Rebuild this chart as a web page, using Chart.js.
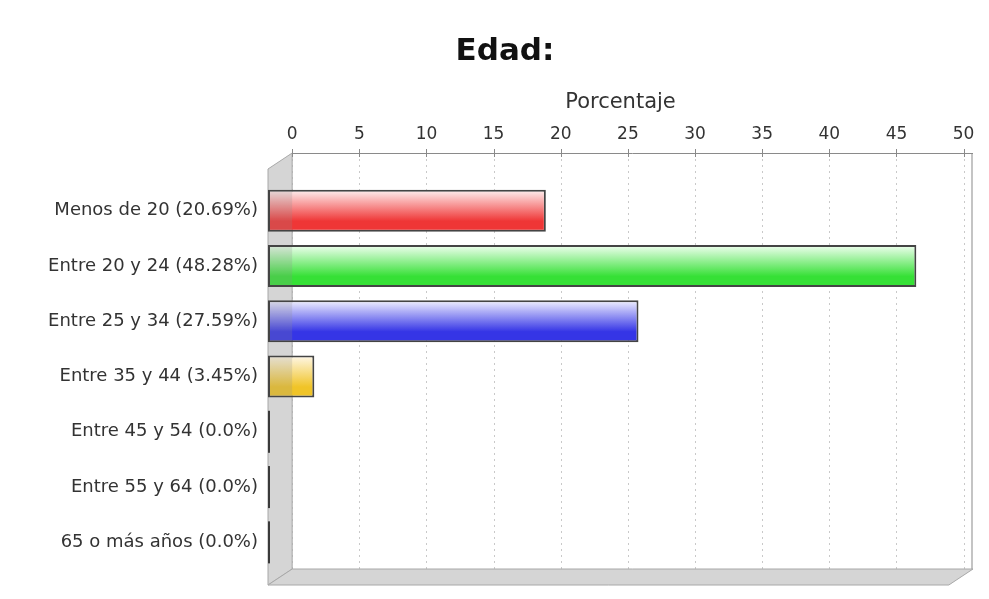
<!DOCTYPE html>
<html>
<head>
<meta charset="utf-8">
<script src="https://cdn.jsdelivr.net/npm/chart.js@4/dist/chart.umd.min.js"></script>
<style>
  html, body { margin: 0; padding: 0; background: #ffffff; }
  #wrap { width: 989px; height: 599px; position: relative; }
</style>
</head>
<body>
<div id="wrap"><canvas id="c" width="989" height="599"></canvas></div>
<script>
// ---- data ----
const CATEGORIES = [
  'Menos de 20 (20.69%)',
  'Entre 20 y 24 (48.28%)',
  'Entre 25 y 34 (27.59%)',
  'Entre 35 y 44 (3.45%)',
  'Entre 45 y 54 (0.0%)',
  'Entre 55 y 64 (0.0%)',
  '65 o más años (0.0%)'
];
const PERCENTAGES = [20.69, 48.28, 27.59, 3.45, 0.0, 0.0, 0.0];
const TICK_VALUES = [0, 5, 10, 15, 20, 25, 30, 35, 40, 45, 50];
const TITLE = 'Edad:';
const AXIS_TITLE = 'Porcentaje';

// ---- style ----
const BAR_TOP = ['#fff2f2', '#f2fff2', '#f2f2ff', '#fff8ea', '#fff2e0', '#f2ffff', '#fff2ff'];
const BAR_BOTTOM = ['#ef3636', '#36e036', '#3535e6', '#f0c428', '#f09020', '#20c0c0', '#c020c0'];
const BAR_PCT = 0.76;
const DEPTH_Y = 16;
const FONT = '"DejaVu Sans", "Liberation Sans", sans-serif';

const box3d = {
  id: 'box3d',
  beforeDatasetsDraw(chart) {
    const { ctx, chartArea: a, scales: { x, x2 } } = chart;
    const dx = x2.getPixelForValue(0) - x.getPixelForValue(0);
    const dy = DEPTH_Y;
    const backTop = a.top - 30, backBottom = a.bottom - 1;
    const fl = a.left, bl = a.left + dx, br = a.right, fr = a.right - dx;
    ctx.save();
    // back wall
    ctx.fillStyle = '#ffffff';
    ctx.fillRect(bl, backTop, br - bl, backBottom - backTop);
    // dashed gridlines
    ctx.strokeStyle = '#c9c9c9';
    ctx.lineWidth = 1;
    ctx.setLineDash([2, 4]);
    x2.ticks.forEach(t => {
      const px = Math.round(x2.getPixelForValue(t.value)) + 0.5;
      ctx.beginPath();
      ctx.moveTo(px, backTop);
      ctx.lineTo(px, backBottom);
      ctx.stroke();
    });
    ctx.setLineDash([]);
    // right edge of back wall
    ctx.strokeStyle = '#c4c4c4';
    ctx.lineWidth = 2;
    ctx.beginPath();
    ctx.moveTo(br - 1, backTop);
    ctx.lineTo(br - 1, backBottom);
    ctx.stroke();
    // left wall
    ctx.fillStyle = '#d5d5d5';
    ctx.strokeStyle = '#a8a8a8';
    ctx.lineWidth = 1;
    ctx.beginPath();
    ctx.moveTo(fl, backTop + dy);
    ctx.lineTo(bl, backTop);
    ctx.lineTo(bl, backBottom);
    ctx.lineTo(fl, backBottom + dy);
    ctx.closePath();
    ctx.fill();
    ctx.stroke();
    // floor
    ctx.beginPath();
    ctx.moveTo(fl, backBottom + dy);
    ctx.lineTo(bl, backBottom);
    ctx.lineTo(br, backBottom);
    ctx.lineTo(fr, backBottom + dy);
    ctx.closePath();
    ctx.fill();
    ctx.stroke();
    // top axis line and tick marks
    ctx.strokeStyle = '#8a8a8a';
    ctx.lineWidth = 1;
    ctx.beginPath();
    ctx.moveTo(bl, backTop + 0.5);
    ctx.lineTo(br, backTop + 0.5);
    ctx.stroke();
    x2.ticks.forEach(t => {
      const px = Math.round(x2.getPixelForValue(t.value)) + 0.5;
      ctx.beginPath();
      ctx.moveTo(px, backTop - 4);
      ctx.lineTo(px, backTop + 4);
      ctx.stroke();
    });
    ctx.restore();
  },
  afterDatasetsDraw(chart) {
    const { ctx, chartArea: a, scales: { x, x2 } } = chart;
    const dx = x2.getPixelForValue(0) - x.getPixelForValue(0);
    const meta = chart.getDatasetMeta(0);
    ctx.save();
    meta.data.forEach(el => {
      const p = el.getProps(['x', 'y', 'base', 'height'], true);
      const top = p.y - p.height / 2;
      if (Math.abs(p.x - p.base) < 1) {
        ctx.fillStyle = '#3a3a3a';
        ctx.fillRect(p.base, top, 2, p.height);
      } else {
        ctx.fillStyle = 'rgba(140,140,140,0.22)';
        ctx.fillRect(a.left + 2, top + 2, Math.min(dx, p.x - p.base - 2) - 2, p.height - 4);
      }
    });
    ctx.restore();
  }
};

new Chart(document.getElementById('c'), {
  type: 'bar',
  data: {
    labels: CATEGORIES,
    datasets: [{
      data: PERCENTAGES,
      xAxisID: 'x',
      yAxisID: 'y',
      backgroundColor: (c) => {
        const chart = c.chart;
        const ys = chart.scales && chart.scales.y;
        const i = c.dataIndex;
        if (!ys || i === undefined || !chart.chartArea) return BAR_BOTTOM[(i || 0) % BAR_BOTTOM.length];
        const yc = ys.getPixelForValue(i);
        const h = ys.height / CATEGORIES.length * BAR_PCT;
        const g = chart.ctx.createLinearGradient(0, yc - h / 2, 0, yc + h / 2);
        g.addColorStop(0, BAR_TOP[i]);
        g.addColorStop(0.75, BAR_BOTTOM[i]);
        g.addColorStop(1, BAR_BOTTOM[i]);
        return g;
      },
      borderColor: '#444444',
      borderWidth: 2,
      borderSkipped: false,
      barPercentage: BAR_PCT,
      categoryPercentage: 1.0
    }]
  },
  options: {
    indexAxis: 'y',
    responsive: false,
    animation: false,
    layout: { padding: { left: 37, right: 16, top: 0, bottom: 29 } },
    plugins: {
      legend: { display: false },
      tooltip: { enabled: false },
      title: {
        display: true,
        text: TITLE,
        color: '#111111',
        font: { family: FONT, size: 31, weight: 'bold', lineHeight: 1.2 },
        padding: { top: 33, bottom: 0 }
      }
    },
    scales: {
      x: {
        type: 'linear',
        display: false,
        min: 0,
        max: 52.5
      },
      x2: {
        type: 'linear',
        position: 'top',
        min: -1.8,
        max: 50.7,
        afterBuildTicks: (s) => { s.ticks = TICK_VALUES.map(v => ({ value: v })); },
        afterFit: (s) => { s.height = 112.8; s.paddingLeft = 0; s.paddingRight = 0; },
        grid: { display: false, drawTicks: false },
        border: { display: false },
        ticks: {
          color: '#333333',
          font: { family: FONT, size: 17 },
          padding: 38,
          maxRotation: 0,
          autoSkip: false
        },
        title: {
          display: true,
          text: AXIS_TITLE,
          color: '#333333',
          font: { family: FONT, size: 21, lineHeight: 1.2 },
          padding: { top: 20, bottom: 0 }
        }
      },
      y: {
        type: 'category',
        afterFit: (s) => { s.width = 231; s.paddingTop = 0; s.paddingBottom = 0; },
        grid: { display: false, drawTicks: false },
        border: { display: false },
        ticks: {
          color: '#333333',
          font: { family: FONT, size: 18 },
          padding: 10,
          autoSkip: false
        }
      }
    }
  },
  plugins: [box3d]
});
</script>
</body>
</html>
